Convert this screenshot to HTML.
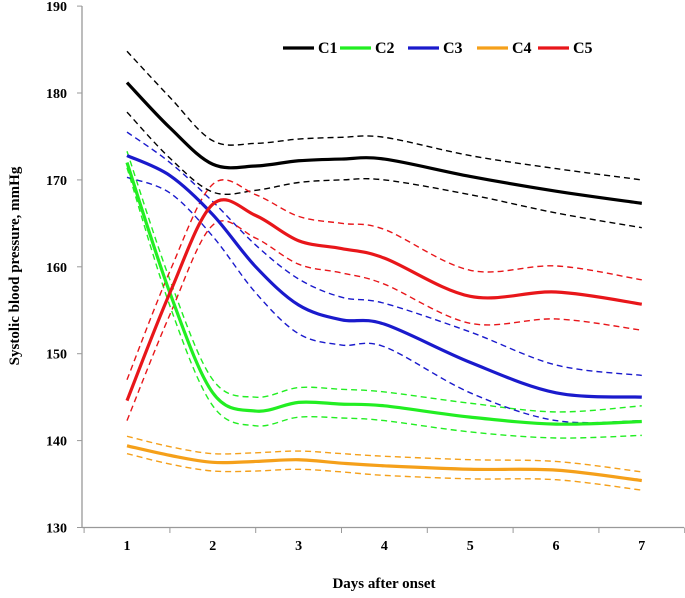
<!DOCTYPE html>
<html><head><meta charset="utf-8"><style>
body{margin:0;background:#fff}
svg{display:block;font-family:"Liberation Serif",serif;font-weight:bold}
</style></head><body>
<svg id="chart" width="685" height="598" viewBox="0 0 685 598"></svg>
<script>
const days=[1,1.5,2,2.5,3,3.5,4,5,6,7];
const xTicks=[1,2,3,4,5,6,7];
const yTicks=[130,140,150,160,170,180,190];
const c1=[181.2,176,171.8,171.6,172.2,172.4,172.4,170.4,168.7,167.3];
const c1Up=[184.8,179.5,174.5,174.2,174.7,174.9,174.9,172.8,171.3,170];
const c1Lo=[177.8,172.5,168.6,168.8,169.7,170,170,168.3,166.2,164.5];
const c2=[172,157,145.5,143.4,144.4,144.2,144,142.7,141.9,142.2];
const c2Up=[173.3,158.5,147,145,146.1,145.9,145.6,144.3,143.3,144];
const c2Lo=[171.4,155.5,144,141.7,142.7,142.6,142.3,141,140.3,140.6];
const c3=[172.8,170.5,166,160,155.6,153.9,153.4,149,145.5,145];
const c3Up=[175.5,172,167.5,162.5,158.6,156.5,155.8,152.5,148.7,147.5];
const c3Lo=[170.3,168.5,163.5,157,152.3,151,150.8,145.5,142.3,142.3];
const c4=[139.4,138.3,137.5,137.6,137.8,137.4,137.1,136.7,136.6,135.4];
const c4Up=[140.5,139.3,138.5,138.6,138.8,138.5,138.2,137.8,137.6,136.4];
const c4Lo=[138.5,137.3,136.5,136.5,136.7,136.4,136,135.6,135.5,134.3];
const c5=[144.6,157,167.2,165.9,163,162.1,161,156.6,157.1,155.7];
const c5Up=[147,159.5,169.5,168.3,165.8,165,164.3,159.6,160.1,158.5];
const c5Lo=[142.3,154.5,164.8,163.3,160.3,159.3,158,153.5,154,152.7];

const NS="http://www.w3.org/2000/svg";
const svg=document.getElementById('chart');
const X=d=>127+(d-1)*85.8;
const Y=v=>527.5-(v-130)*8.69;
function mk(tag,attrs,parent){const e=document.createElementNS(NS,tag);for(const k in attrs)e.setAttribute(k,attrs[k]);(parent||svg).appendChild(e);return e;}
function path(vals){
  const p=days.map((d,i)=>[X(d),Y(vals[i])]);
  let s=`M${p[0][0]},${p[0][1]}`;
  for(let i=0;i<p.length-1;i++){
    const p0=p[Math.max(i-1,0)],p1=p[i],p2=p[i+1],p3=p[Math.min(i+2,p.length-1)];
    const c1x=p1[0]+(p2[0]-p0[0])/6,c1y=p1[1]+(p2[1]-p0[1])/6;
    const c2x=p2[0]-(p3[0]-p1[0])/6,c2y=p2[1]-(p3[1]-p1[1])/6;
    s+=`C${c1x},${c1y} ${c2x},${c2y} ${p2[0]},${p2[1]}`;
  }
  return s;
}
let e=mk('line',{x1:82,y1:6,x2:82,y2:527.5,stroke:'#999','stroke-width':1.3});

e=mk('line',{x1:82,y1:527.5,x2:684,y2:527.5,stroke:'#999','stroke-width':1.3});

yTicks.forEach(v=>{
  const t=mk('line',{x1:77,x2:82,y1:Y(v),y2:Y(v),stroke:'#999'});
  
  const l=mk('text',{x:67,y:Y(v)+5,'text-anchor':'end','font-size':14});
  
  l.textContent=v;
});
for(let i=0;i<=xTicks.length;i++){
  const xx=X(xTicks[0]-0.5+i);
  const t=mk('line',{x1:xx,x2:xx,y1:527.5,y2:533,stroke:'#999'});
  
}
xTicks.forEach(d=>{
  const l=mk('text',{x:X(d),y:550,'text-anchor':'middle','font-size':14});
  
  l.textContent=d;
});
e=mk('text',{x:384,y:588,'text-anchor':'middle','font-size':15});

e.textContent='Days after onset';
e=mk('text',{x:0,y:0,'text-anchor':'middle','font-size':15,transform:'translate(19,266) rotate(-90)'});

e.textContent='Systolic blood pressure, mmHg';
const series=[
 ['c1',c1,c1Up,c1Lo,'#000'],
 ['c2',c2,c2Up,c2Lo,'#22ee22'],
 ['c3',c3,c3Up,c3Lo,'#1a1acc'],
 ['c4',c4,c4Up,c4Lo,'#f5a01a'],
 ['c5',c5,c5Up,c5Lo,'#e8161a']];
series.forEach(([n,m,u,l,col])=>{
  let p=mk('path',{d:path(u),fill:'none',stroke:col,'stroke-width':1.4,'stroke-dasharray':'6,4'});
  
  p=mk('path',{d:path(l),fill:'none',stroke:col,'stroke-width':1.4,'stroke-dasharray':'6,4'});
  
});
series.forEach(([n,m,u,l,col])=>{
  const p=mk('path',{d:path(m),fill:'none',stroke:col,'stroke-width':3.2});
  
});
const legX=[283,340,408,477,538];
const names=['C1','C2','C3','C4','C5'];
series.forEach((s,i)=>{
  const ln=mk('line',{x1:legX[i],x2:legX[i]+31,y1:48,y2:48,stroke:s[4],'stroke-width':3.2});
  
  const t=mk('text',{x:legX[i]+35,y:53,'font-size':16});
  
  t.textContent=names[i];
});
</script>
</body></html>
